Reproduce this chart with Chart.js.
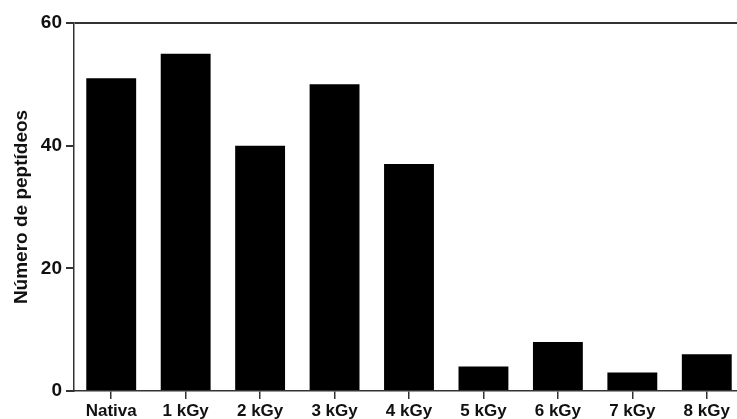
<!DOCTYPE html>
<html lang="pt-BR">
<head>
  <meta charset="UTF-8" />
  <title>Número de peptídeos</title>
  <style>
    html, body { margin: 0; padding: 0; background: #fff; overflow: hidden; }
    #janela { width: 737px; height: 419px; overflow: hidden; }
    /* o gráfico original passa um pouco da borda direita */
    #wrap { width: 744px; height: 419px; position: relative; }
  </style>
</head>
<body>
  <div id="janela"><div id="wrap"><canvas id="grafico"></canvas></div></div>

  <script src="https://cdn.jsdelivr.net/npm/chart.js"></script>
  <script>
    // dados
    const categorias = ['Nativa', '1 kGy', '2 kGy', '3 kGy', '4 kGy', '5 kGy', '6 kGy', '7 kGy', '8 kGy'];
    const peptideos = [51, 55, 40, 50, 37, 4, 8, 3, 6];
    const ticksY = [0, 20, 40, 60];

    const fonte = 'Arial, "Liberation Sans", sans-serif';
    const corEixo = '#333';

    new Chart(document.getElementById('grafico'), {
      type: 'bar',
      data: {
        labels: categorias,
        datasets: [{
          data: peptideos,
          backgroundColor: '#000',
          categoryPercentage: 1,
          barPercentage: 0.67
        }]
      },
      options: {
        responsive: true,
        maintainAspectRatio: false,
        animation: false,
        layout: { padding: { top: 23, right: 0, bottom: 0, left: 0 } },
        plugins: {
          legend: { display: false },
          tooltip: { enabled: false }
        },
        scales: {
          x: {
            grid: { offset: false, drawOnChartArea: false, drawTicks: true, tickLength: 8, color: corEixo, lineWidth: 1.5 },
            border: { color: corEixo, width: 1.5 },
            ticks: { color: '#111', padding: 2, font: { family: fonte, size: 17, weight: 'bold' } },
            afterFit: s => { s.height = 28; }
          },
          y: {
            min: 0,
            max: 60,
            afterBuildTicks: s => { s.ticks = ticksY.map(v => ({ value: v })); },
            grid: {
              drawOnChartArea: true,
              drawTicks: true,
              tickLength: 8,
              lineWidth: 2,
              color: c => (c.tick && c.tick.value === 60 ? corEixo : 'rgba(0,0,0,0)'),
              tickColor: corEixo
            },
            border: { color: corEixo, width: 1.5 },
            ticks: { color: '#111', padding: 4, font: { family: fonte, size: 19, weight: 'bold' } },
            title: {
              display: true,
              text: 'Número de peptídeos',
              color: '#111',
              padding: { top: 10, bottom: 0 },
              font: { family: fonte, size: 19, weight: 'bold' }
            },
            afterFit: s => { s.width = 74; }
          }
        }
      }
    });
  </script>
</body>
</html>
